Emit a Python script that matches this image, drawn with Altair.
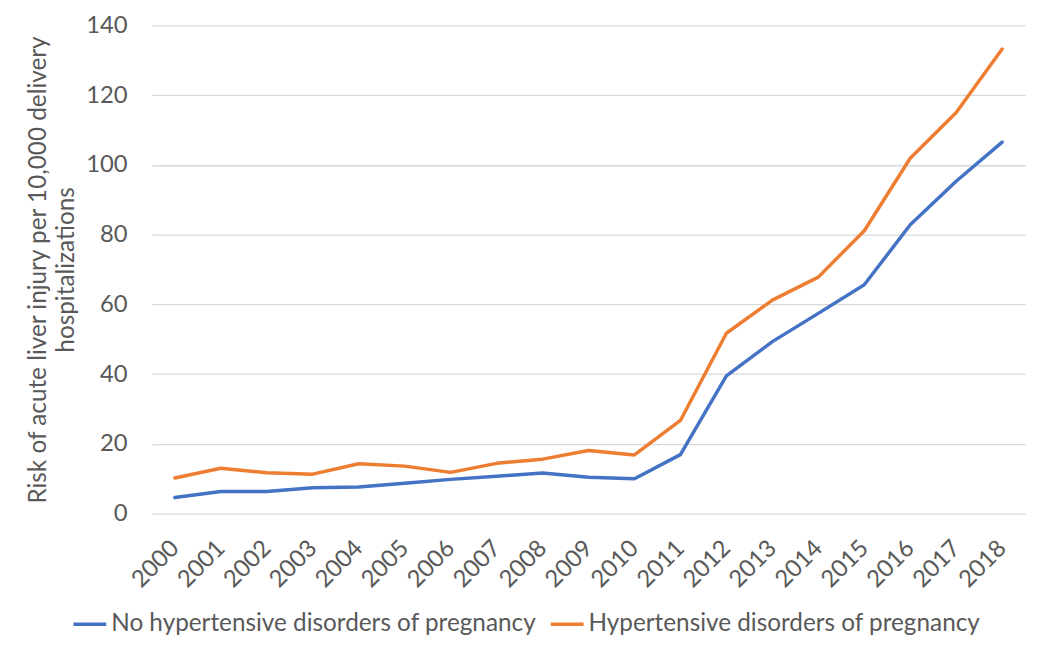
import altair as alt
import pandas as pd

years = [str(y) for y in range(2000, 2019)]
series_names = ["No hypertensive disorders of pregnancy", "Hypertensive disorders of pregnancy"]
no_hdp = [4.6, 6.3, 6.3, 7.4, 7.6, 8.7, 9.8, 10.7, 11.6, 10.4, 10.0, 16.9, 39.5, 49.3, 57.4, 65.6, 82.8, 95.3, 106.5]
hdp = [10.2, 13.0, 11.7, 11.3, 14.3, 13.6, 11.8, 14.4, 15.6, 18.1, 16.8, 26.7, 51.7, 61.2, 67.8, 81.1, 101.9, 115.0, 133.2]
y_ticks = [0, 20, 40, 60, 80, 100, 120, 140]
colors = ["#4472C4", "#ED7D31"]

rows = []
for name, vals in zip(series_names, [no_hdp, hdp]):
    for yr, v in zip(years, vals):
        rows.append({"Year": yr, "Series": name, "Value": v})
df = pd.DataFrame(rows)

FONT = "Lato"
GRAY = "#595959"

chart = alt.Chart(df).mark_line(strokeWidth=3.5, strokeCap="round", strokeJoin="round").encode(
    x=alt.X("Year:O", sort=years,
            scale=alt.Scale(type="point", padding=0.5),
            axis=alt.Axis(title=None, labelAngle=315, labelAlign="right", labelBaseline="middle",
                          labelPadding=31, ticks=False, domain=False, grid=False,
                          labelFont=FONT, labelFontSize=24, labelColor=GRAY, labelOverlap=False)),
    y=alt.Y("Value:Q",
            scale=alt.Scale(domain=[0, 140], nice=False, zero=True),
            axis=alt.Axis(values=y_ticks, title=["Risk of acute liver injury per 10,000 delivery", "hospitalizations"],
                          titleFont=FONT, titleFontSize=24.5, titleColor=GRAY, titleFontWeight="normal",
                          titleAngle=270, titleAlign="center", titleBaseline="top",
                          titleX=-126, titleY=246, titleLineHeight=28,
                          labelFont=FONT, labelFontSize=24, labelColor=GRAY, labelPadding=25,
                          ticks=False, domain=False, grid=True, gridColor="#D9D9D9", gridWidth=1.3)),
    color=alt.Color("Series:N", sort=series_names,
                    scale=alt.Scale(domain=series_names, range=colors),
                    legend=alt.Legend(title=None, orient="none", legendX=-81, legendY=585,
                                      direction="horizontal", symbolType="stroke", symbolSize=1089,
                                      symbolStrokeWidth=3.5, labelFont=FONT, labelFontSize=24.5,
                                      labelColor=GRAY, labelOffset=3, columnPadding=7,
                                      padding=0, labelLimit=600)),
).properties(
    width=880,
    height=492,
    autosize=alt.AutoSizeParams(type="none"),
    padding={"left": 145, "top": 15, "right": 17, "bottom": 130},
    background="white",
).configure_view(strokeWidth=0)

chart.save("out.html", embed_options={"renderer": "svg", "actions": False})
